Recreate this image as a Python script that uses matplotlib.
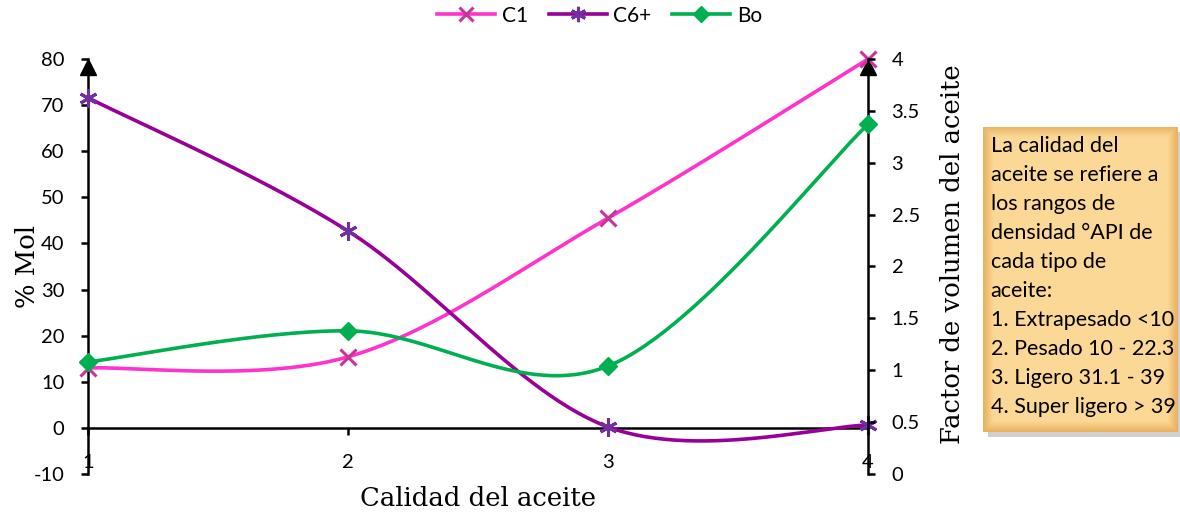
"""Composition and oil volume factor versus oil quality."""

import numpy as np
import matplotlib
matplotlib.use('Agg')
from matplotlib import pyplot as plt
from matplotlib import transforms
from matplotlib.patches import Rectangle

# Oil quality classes (x axis).
calidad = [1, 2, 3, 4]
xticks = [1, 2, 3, 4]

# Mole fractions (% Mol) on the left axis.
c1 = [13.0, 15.4, 45.5, 80.0]
c6_plus = [71.6, 42.7, 0.2, 0.6]

# Oil formation volume factor on the right axis.
bo = [1.08, 1.38, 1.04, 3.37]

nota = ('La calidad del\naceite se refiere a\nlos rangos de\n'
        'densidad °API de\ncada tipo de\naceite:\n'
        '1. Extrapesado <10\n2. Pesado 10 - 22.3\n'
        '3. Ligero 31.1 - 39\n4. Super ligero > 39')


def smooth(x, y, n=60):
    """Catmull-Rom Bezier curve through the points (smoothed line)."""
    p = np.column_stack([x, y]).astype(float)
    p = np.vstack([p[0], p, p[-1]])
    t = np.linspace(0.0, 1.0, n)[:, None]
    segs = []
    for i in range(1, len(p) - 2):
        p0, p1, p2, p3 = p[i - 1], p[i], p[i + 1], p[i + 2]
        b1 = p1 + (p2 - p0) / 6.0
        b2 = p2 - (p3 - p1) / 6.0
        seg = ((1 - t)**3 * p1 + 3 * (1 - t)**2 * t * b1
               + 3 * (1 - t) * t**2 * b2 + t**3 * p2)
        segs.append(seg)
    curve = np.vstack(segs)
    return curve[:, 0], curve[:, 1]


plt.rcParams['font.family'] = ['Lato', 'DejaVu Sans']
plt.rcParams['axes.unicode_minus'] = False
serif = 'DejaVu Serif'

fig = plt.figure(figsize=(11.8, 5.2), dpi=100)
ax = fig.add_axes([0.0746, 0.0885, 0.661, 0.798])
ax2 = ax.twinx()

lw = 2.6
c1_line, c1_mark = '#FF33CC', '#CC3399'
c6_line, c6_mark = '#990099', '#7030A0'
bo_line = '#00B050'

xs, ys = smooth(calidad, c1)
ax.plot(xs, ys, color=c1_line, lw=lw, clip_on=False, zorder=3)
ax.plot(calidad, c1, ls='none', marker='x', ms=12, mew=2.2,
        color=c1_mark, clip_on=False, zorder=4)

xs, ys = smooth(calidad, c6_plus)
ax.plot(xs, ys, color=c6_line, lw=lw, clip_on=False, zorder=3)
ax.plot(calidad, c6_plus, ls='none', marker=(6, 2, 0), ms=13, mew=2.2,
        color=c6_mark, clip_on=False, zorder=4)

xs, ys = smooth(calidad, bo)
ax2.plot(xs, ys, color=bo_line, lw=lw, clip_on=False, zorder=3)
ax2.plot(calidad, bo, ls='none', marker='D', ms=9,
         color=bo_line, clip_on=False, zorder=4)

# Left axis: % Mol, x axis crossing at zero.
ax.set_xlim(1, 4)
ax.set_ylim(-10, 80)
ax.set_yticks(range(-10, 81, 10))
ax.set_xticks(xticks)
ax.spines['bottom'].set_position(('data', 0))
ax.spines['top'].set_visible(False)
ax.spines['right'].set_visible(False)
ax2.spines['top'].set_visible(False)
ax2.spines['left'].set_visible(False)
ax2.spines['bottom'].set_visible(False)
for s in (ax.spines['left'], ax.spines['bottom'], ax2.spines['right']):
    s.set_linewidth(1.8)
ax.tick_params(axis='y', labelsize=14.5, width=1.8, length=5, pad=12)
ax.tick_params(axis='x', labelsize=14.5, width=1.8, length=5, pad=14)

ax2.set_ylim(0, 4)
ax2.set_yticks(np.arange(0, 4.01, 0.5))
ax2.set_yticklabels(['0', '0.5', '1', '1.5', '2', '2.5', '3', '3.5', '4'])
ax2.tick_params(axis='y', labelsize=14.5, width=1.8, length=5, pad=12)

# Arrow heads at the top of both vertical axes.
down = transforms.ScaledTranslation(0, -6 / 72, fig.dpi_scale_trans)
for xa in (0, 1):
    ax.plot(xa, 1, marker='^', ms=12, color='black',
            transform=ax.transAxes + down, clip_on=False, zorder=2)

ax.set_xlabel('Calidad del aceite', family=serif, fontsize=18.6)
ax.xaxis.set_label_coords(0.5, -0.03)
ax.set_ylabel('% Mol', family=serif, fontsize=18.6)
ax.yaxis.set_label_coords(-0.062, 0.5)
ax2.set_ylabel('Factor de volumen del aceite', family=serif, fontsize=18.6)
ax2.yaxis.set_label_coords(1.092, 0.53)

# Legend above the plot.
handles = [
    plt.Line2D([], [], color=c1_line, lw=lw, marker='x', ms=10, mew=2.2,
               mec=c1_mark),
    plt.Line2D([], [], color=c6_line, lw=lw, marker=(6, 2, 0), ms=11,
               mew=2.2, mec=c6_mark),
    plt.Line2D([], [], color=bo_line, lw=lw, marker='D', ms=8),
]
fig.legend(handles, ['C1', 'C6+', 'Bo'], loc='center',
           bbox_to_anchor=(0.508, 0.97), ncol=3, frameon=False,
           fontsize=15, handlelength=2.8, columnspacing=1.0,
           handletextpad=0.3)

# Note box on the right, with a soft bevel shading.
bx, by, bw, bh = 0.833, 0.169, 0.165, 0.587
fig.patches.append(Rectangle((bx + 0.004, by - 0.01), bw, bh,
                             transform=fig.transFigure,
                             facecolor='#AAAAAA', edgecolor='none',
                             alpha=0.55, zorder=1))
bax = fig.add_axes([bx, by, bw, bh], zorder=2)
gy, gx = np.mgrid[0:1:200j, 0:1:120j]
edge = np.minimum(np.minimum(gx * bw * 1180, (1 - gx) * bw * 1180),
                  np.minimum(gy * bh * 520, (1 - gy) * bh * 520))
bevel = np.clip(edge / 10.0, 0, 1)
light = np.array([251, 216, 150]) / 255
dark = np.array([232, 178, 96]) / 255
shade = dark + (light - dark) * bevel[..., None]
bax.imshow(shade, extent=(0, 1, 0, 1), aspect='auto', origin='upper')
bax.set_axis_off()
bax.text(0.04, 0.97, nota, fontsize=15.5, va='top', ha='left',
         linespacing=1.56, transform=bax.transAxes)

fig.savefig('out.png', dpi=100)
